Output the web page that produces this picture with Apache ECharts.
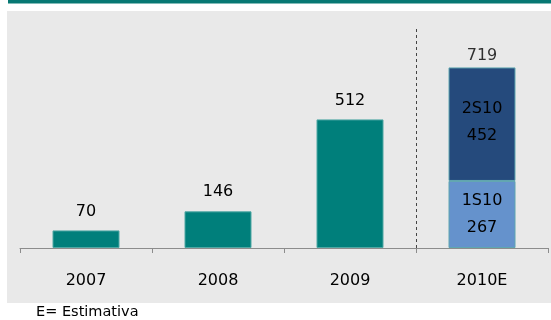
<!DOCTYPE html>
<html><head><meta charset="utf-8">
<script src="https://cdn.jsdelivr.net/npm/echarts@6/dist/echarts.min.js"></script>
<style>html,body{margin:0;padding:0;background:#fff}#c{width:551px;height:320px}</style>
</head><body><div id="c"></div>
<script>
var categories = ['2007', '2008', '2009', '2010E'];
var annualValues = [70, 146, 512, null];
var firstHalf = [null, null, null, 267];
var secondHalf = [null, null, null, 452];
var totals = [null, null, null, 719];
var halfNames = ['1S10', '2S10'];
var footnote = 'E= Estimativa';

var chart = echarts.init(document.getElementById('c'));
var font = 'DejaVu Sans';
chart.setOption({
  animation: false,
  backgroundColor: '#ffffff',
  textStyle: { fontFamily: font },
  graphic: [
    { type: 'rect', shape: { x: 8, y: 0, width: 543, height: 3.5 }, style: { fill: '#077873' }, z: -10 },
    { type: 'rect', shape: { x: 7, y: 11, width: 544, height: 292 }, style: { fill: '#e9e9e9' }, z: -10 },
    { type: 'text', left: 36, top: 305, style: { text: footnote, font: '14.5px "DejaVu Sans"', fill: '#000' } }
  ],
  grid: { left: 20, right: 3, top: 27, bottom: 72 },
  xAxis: [{
    type: 'category', data: categories,
    axisLine: { lineStyle: { color: '#8c8c8c', width: 1 } },
    axisTick: { show: true, length: 5, lineStyle: { color: '#8c8c8c' } },
    axisLabel: { fontSize: 16, color: '#000', margin: 25, fontFamily: font }
  }, {
    type: 'value', min: 0, max: 4, show: false
  }],
  yAxis: { type: 'value', min: 0, max: 880, show: false },
  series: [
    {
      type: 'bar', stack: 's', data: annualValues, barWidth: 67,
      itemStyle: { color: '#007f7b', borderColor: '#4fa8a4', borderWidth: 1 },
      label: { show: true, position: 'top', distance: 11, fontSize: 16, color: '#000', fontFamily: font }
    },
    {
      type: 'bar', stack: 's', data: firstHalf, barWidth: 67, name: halfNames[0],
      itemStyle: { color: '#6592cc', borderColor: '#5fa6b0', borderWidth: 1 },
      label: { show: true, position: 'inside', fontSize: 16, lineHeight: 27, color: '#000', fontFamily: font,
        formatter: function (p) { return halfNames[0] + '\n' + p.value; } }
    },
    {
      type: 'bar', stack: 's', data: secondHalf, barWidth: 67, name: halfNames[1],
      itemStyle: { color: '#254a7c', borderColor: '#5fa6b0', borderWidth: 1 },
      label: { show: true, position: 'inside', offset: [0, -2], fontSize: 16, lineHeight: 27, color: '#000', fontFamily: font,
        formatter: function (p) { return halfNames[1] + '\n' + p.value; } }
    },
    {
      type: 'scatter', data: totals, symbolSize: 0, silent: true,
      label: { show: true, position: 'top', distance: 4, fontSize: 16, color: '#000', fontFamily: font }
    },
    {
      type: 'line', xAxisIndex: 1, data: [], silent: true,
      markLine: { symbol: 'none', silent: true, label: { show: false },
        lineStyle: { type: [3, 3], color: '#444', width: 1 },
        data: [{ xAxis: 3 }] }
    }
  ]
});
</script></body></html>
